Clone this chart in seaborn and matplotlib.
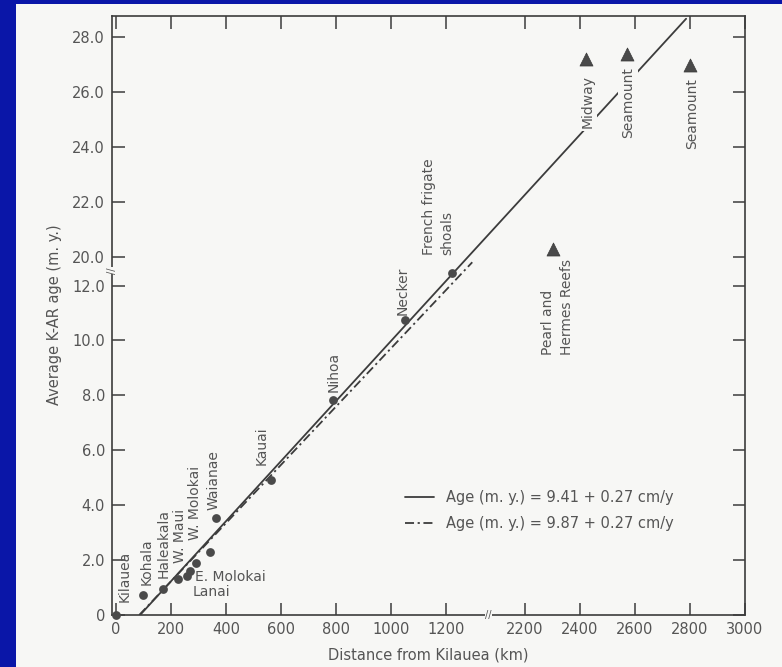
import numpy as np
import pandas as pd
import matplotlib
matplotlib.use("Agg")
import matplotlib.pyplot as plt
import seaborn as sns
from matplotlib.patches import Rectangle
from matplotlib.transforms import blended_transform_factory

# ---------------- data ----------------
island_names = ["Kilauea", "Kohala", "Haleakala", "W. Maui", "E. Molokai", "Lanai",
                "W. Molokai", "", "Waianae", "Kauai", "Nihoa", "Necker",
                "French frigate\nshoals"]
island_km = [0, 98, 171, 225, 258, 269, 291, 342, 363, 563, 789, 1050, 1221]
island_age = [0, 0.73, 0.95, 1.31, 1.42, 1.6, 1.89, 2.29, 3.53, 4.91, 7.82, 10.73, 12.45]

far_names = ["Pearl and\nHermes Reefs", "Midway", "Seamount", "Seamount"]
far_km = [2303, 2423, 2572, 2801]
far_age = [20.3, 27.2, 27.4, 27.0]

fit1_km = [87, 2786]
fit1_age = [0, 28.67]
fit2_km = [84, 1294]
fit2_age = [0, 12.85]
fit_labels = ["Age (m. y.) = 9.41 + 0.27 cm/y", "Age (m. y.) = 9.87 + 0.27 cm/y"]

x_ticks = [0, 200, 400, 600, 800, 1000, 1200, 2200, 2400, 2600, 2800, 3000]
x_tick_labels = ["0", "200", "400", "600", "800", "1000", "1200",
                 "2200", "2400", "2600", "2800", "3000"]
y_ticks = [0, 2, 4, 6, 8, 10, 12, 20, 22, 24, 26, 28]
y_tick_labels = ["0", "2.0", "4.0", "6.0", "8.0", "10.0", "12.0",
                 "20.0", "22.0", "24.0", "26.0", "28.0"]

# ---------------- layout (label offsets in pixels) ----------------
island_offsets = {"Kilauea": (8, 13, "v"), "Kohala": (4, 10, "v"), "Haleakala": (0, 11, "v"),
                  "W. Maui": (2, 16, "v"), "E. Molokai": (8, -1, "h"), "Lanai": (2, -21, "h"),
                  "W. Molokai": (-1, 23, "v"), "Waianae": (-3, 8, "v"), "Kauai": (-9, 15, "v"),
                  "Nihoa": (0, 8, "v"), "Necker": (-2, 5, "v"),
                  "French frigate\nshoals": (-14, 18, "v")}
far_offsets = [(4.5, -106), (1, -69), (1, -84), (2, -84)]

# broken-axis scales
XK_real = [-500, 1350, 2200, 3500]
XK_virt = [-500, 1350, 1485, 2785]
YK_real = [-5, 12.9, 20, 35]
YK_virt = [-5, 12.9, 13.05, 28.05]


def xf(v):
    return np.interp(v, XK_real, XK_virt)


def xi(v):
    return np.interp(v, XK_virt, XK_real)


def yf(v):
    return np.interp(v, YK_real, YK_virt)


def yi(v):
    return np.interp(v, YK_virt, YK_real)


sns.set_theme(style="white")
plt.rcParams["font.family"] = ["DejaVu Sans"]

TXT = "#555555"
INK = "#3c3c3c"

fig = plt.figure(figsize=(7.82, 6.67), dpi=100)
fig.patch.set_facecolor("#0a16a8")
fig.add_artist(Rectangle((16 / 782, 0), (782 - 16) / 782, (667 - 4) / 667,
                         transform=fig.transFigure, facecolor="#f7f7f5",
                         edgecolor="none", zorder=-10))

ax = fig.add_axes([112 / 782, (667 - 615) / 667, (745 - 112) / 782, (615 - 16) / 667])
ax.set_facecolor("#f7f7f5")
ax.set_xscale("function", functions=(xf, xi))
ax.set_yscale("function", functions=(yf, yi))

df_isl = pd.DataFrame({"km": island_km, "age": island_age, "name": island_names})
df_far = pd.DataFrame({"km": far_km, "age": far_age, "name": far_names})

sns.lineplot(x=fit1_km, y=fit1_age, ax=ax, color=INK, lw=1.3, sort=False,
             estimator=None, label=fit_labels[0], zorder=2)
sns.lineplot(x=fit2_km, y=fit2_age, ax=ax, color=INK, lw=1.3, sort=False,
             estimator=None, label=fit_labels[1], linestyle=(0, (5, 2, 1.2, 2)), zorder=2)

sns.scatterplot(data=df_isl, x="km", y="age", ax=ax, s=40, color="#4a4a4a",
                edgecolor="#4a4a4a", linewidth=0, marker="o", zorder=3, clip_on=False,
                legend=False)
sns.scatterplot(data=df_far, x="km", y="age", ax=ax, s=88, color="#4a4a4a",
                edgecolor="#3a3a3a", linewidth=0.5, marker="^", zorder=3, legend=False)

ax.set_xlim(-15, 3000)
ax.set_ylim(0, 28.77)

# labels of the islands
for name, km, age in zip(island_names, island_km, island_age):
    if not name:
        continue
    dx, dy, orient = island_offsets[name]
    if orient == "v":
        ax.annotate(name, xy=(km, age), xytext=(dx * 0.72, dy * 0.72),
                    textcoords="offset points", rotation=90, ha="center", va="bottom",
                    fontsize=10, color=TXT, multialignment="left", linespacing=1.45,
                    zorder=4)
    else:
        ax.annotate(name, xy=(km, age), xytext=(dx * 0.72, dy * 0.72),
                    textcoords="offset points", ha="left", va="center",
                    fontsize=10, color=TXT, zorder=4)

for (name, km, age), (dx, dy) in zip(zip(far_names, far_km, far_age), far_offsets):
    bb = None
    if name in ("Midway", "Seamount"):
        bb = dict(boxstyle="square,pad=0.2", facecolor="#f7f7f5", edgecolor="none")
    ax.annotate(name, xy=(km, age), xytext=(dx * 0.72, dy * 0.72),
                textcoords="offset points", rotation=90, ha="center", va="bottom",
                fontsize=10, color=TXT, multialignment="left", linespacing=1.45,
                bbox=bb, zorder=4)

# ticks
ax.minorticks_off()
ax.set_xticks(x_ticks)
ax.set_xticklabels(x_tick_labels)
ax.set_yticks(y_ticks)
ax.set_yticklabels(y_tick_labels)
ax.tick_params(axis="both", which="major", direction="in", length=9, width=1.1,
               color=INK, labelcolor=TXT, labelsize=10.5, top=True, right=True,
               bottom=True, left=True)
ax.tick_params(axis="x", pad=5)
ax.tick_params(axis="y", pad=5)
for sp in ax.spines.values():
    sp.set_color(INK)
    sp.set_linewidth(1.2)

ax.set_xlabel("Distance from Kilauea (km)", fontsize=10.5, color=TXT)
ax.set_ylabel("Average K-AR age (m. y.)", fontsize=10.5, color=TXT)
ax.xaxis.set_label_coords(0.5, -0.055)
ax.yaxis.set_label_coords(-0.079, 0.502)

# axis break marks
ax.text(0, 12.55, "//", transform=blended_transform_factory(ax.transAxes, ax.transData),
        rotation=90, ha="center", va="center", fontsize=7, color="#555555",
        bbox=dict(boxstyle="square,pad=0.05", facecolor="#f7f7f5", edgecolor="none"),
        clip_on=False, zorder=5)
ax.text(1370, 0, "//", transform=blended_transform_factory(ax.transData, ax.transAxes),
        ha="center", va="center", fontsize=7, color="#555555",
        bbox=dict(boxstyle="square,pad=0.05", facecolor="#f7f7f5", edgecolor="none"),
        clip_on=False, zorder=5)

handles = [l for l in ax.get_lines() if l.get_label() in fit_labels]
leg = ax.legend(handles=handles, labels=fit_labels, loc="center left",
                bbox_to_anchor=(0.463, 0.175), frameon=False, fontsize=10.5,
                handlelength=2.0, handletextpad=0.8, labelspacing=0.75,
                borderaxespad=0, borderpad=0)
for t in leg.get_texts():
    t.set_color(TXT)

fig.savefig("out.png", dpi=100, facecolor=fig.get_facecolor())
